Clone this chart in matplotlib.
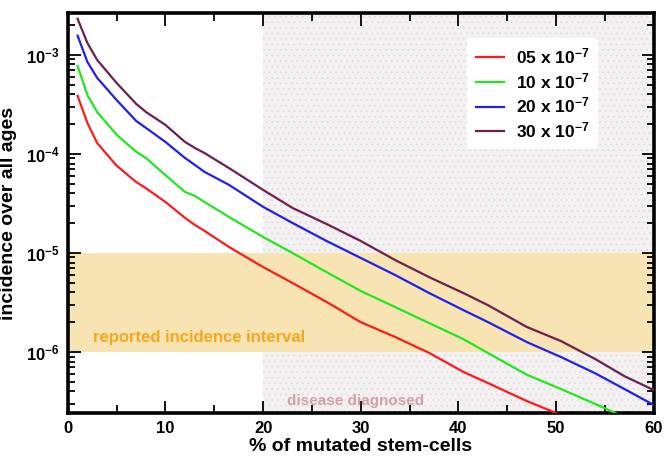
import matplotlib
matplotlib.use("Agg")
import matplotlib.pyplot as plt
from matplotlib.ticker import LogLocator, MultipleLocator
import numpy as np

plt.rcParams['font.family'] = ['Liberation Sans', 'DejaVu Sans']
plt.rcParams['font.weight'] = 'bold'
plt.rcParams['mathtext.fontset'] = 'custom'
plt.rcParams['mathtext.rm'] = 'Liberation Sans:bold'
plt.rcParams['mathtext.bf'] = 'Liberation Sans:bold'
plt.rcParams['mathtext.default'] = 'bf'
plt.rcParams['hatch.linewidth'] = 0.6

# % of mutated stem-cells
pct = [1, 2, 3, 5, 7, 8, 10, 12, 13, 14, 16.5, 20, 23, 26.5, 30, 33.5,
       37, 40.5, 43, 47, 50.5, 54, 57, 60]

rate_05 = [3.86e-4, 2.06e-4, 1.29e-4, 7.6e-5, 5.2e-5, 4.5e-5, 3.27e-5, 2.26e-5,
           1.92e-5, 1.67e-5, 1.15e-5, 7.2e-6, 4.98e-6, 3.2e-6, 2.0e-6, 1.42e-6,
           9.8e-7, 6.3e-7, 4.87e-7, 3.2e-7, 2.31e-7, None, None, None]
rate_10 = [7.74e-4, 3.94e-4, 2.65e-4, 1.56e-4, 1.05e-4, 9.1e-5, 6.1e-5, 4.13e-5,
           3.77e-5, 3.27e-5, 2.31e-5, 1.45e-5, 1.0e-5, 6.4e-6, 4.13e-6, 2.85e-6,
           1.96e-6, 1.35e-6, 9.8e-7, 5.9e-7, 4.23e-7, 2.99e-7, 2.2e-7, None]
rate_20 = [1.56e-3, 8.5e-4, 5.86e-4, 3.5e-4, 2.15e-4, 1.83e-4, 1.32e-4, 9.1e-5,
           7.75e-5, 6.58e-5, 4.87e-5, 2.92e-5, 2.01e-5, 1.32e-5, 8.9e-6, 6.0e-6,
           3.94e-6, 2.65e-6, 2.01e-6, 1.26e-6, 8.9e-7, 6.1e-7, 4.23e-7, 2.92e-7]
rate_30 = [2.31e-3, 1.32e-3, 8.9e-4, 5.2e-4, 3.2e-4, 2.65e-4, 1.96e-4, 1.32e-4,
           1.15e-4, 1.02e-4, 7.2e-5, 4.33e-5, 2.85e-5, 1.96e-5, 1.32e-5, 8.5e-6,
           5.7e-6, 3.94e-6, 2.98e-6, 1.79e-6, 1.29e-6, 8.5e-7, 5.7e-7, 4.13e-7]

labels = ['05 x 10$^{-7}$', '10 x 10$^{-7}$', '20 x 10$^{-7}$', '30 x 10$^{-7}$']
colors = ['#ff1a1a', '#22e622', '#2020ee', '#6e1f4e']

reported = (1e-6, 1e-5)
diagnosed_from = 20

fig = plt.figure(figsize=(6.65, 4.62), dpi=100)
ax = fig.add_axes([0.102, 0.106, 0.881, 0.866])

ax.axvspan(diagnosed_from, 60, facecolor='#f4f1f2', edgecolor='#e3dadd',
           hatch='...', linewidth=0, zorder=0)
ax.axhspan(reported[0], reported[1], facecolor='#f8e3b2', linewidth=0, zorder=1)

for vals, lab, col in zip([rate_05, rate_10, rate_20, rate_30], labels, colors):
    y = np.array([np.nan if v is None else v for v in vals], dtype=float)
    ax.plot(pct, y, color=col, lw=1.6, label=lab, zorder=3)

ax.set_yscale('log')
ax.set_xlim(0, 60)
ax.set_ylim(2.42e-7, 2.65e-3)

ax.text(2.6, 1.41e-6, 'reported incidence interval', color='#f5a81e',
        fontsize=12, fontweight='bold', va='center', zorder=2)
ax.text(22.4, 3.2e-7, 'disease diagnosed', color='#d2a0a6',
        fontsize=11, fontweight='bold', va='center', zorder=2)

ax.xaxis.set_major_locator(MultipleLocator(10))
ax.xaxis.set_minor_locator(MultipleLocator(5))
ax.yaxis.set_major_locator(LogLocator(base=10))
ax.yaxis.set_minor_locator(LogLocator(base=10, subs=np.arange(2, 10)))
ax.yaxis.set_minor_formatter(plt.NullFormatter())

ax.tick_params(which='both', direction='in', top=True, right=True, width=1.3)
ax.tick_params(which='major', length=9, labelsize=12, pad=6)
ax.tick_params(axis='x', which='minor', length=6)
ax.tick_params(axis='y', which='minor', length=5)
for sp in ax.spines.values():
    sp.set_linewidth(2.6)
for lab in ax.get_xticklabels() + ax.get_yticklabels():
    lab.set_fontweight('bold')

ax.set_xlabel('% of mutated stem-cells', fontsize=14, fontweight='bold', labelpad=1)
ax.set_ylabel('incidence over all ages', fontsize=14, fontweight='bold', labelpad=6)

leg = ax.legend(loc='upper right', bbox_to_anchor=(0.92, 0.96), frameon=True,
                fontsize=12.5, handlelength=1.6, handletextpad=0.7,
                labelspacing=0.28, borderpad=0.5)
leg.get_frame().set_facecolor('white')
leg.get_frame().set_edgecolor('none')
leg.get_frame().set_alpha(1)
for t in leg.get_texts():
    t.set_fontweight('bold')

fig.savefig('out.png', dpi=100)
